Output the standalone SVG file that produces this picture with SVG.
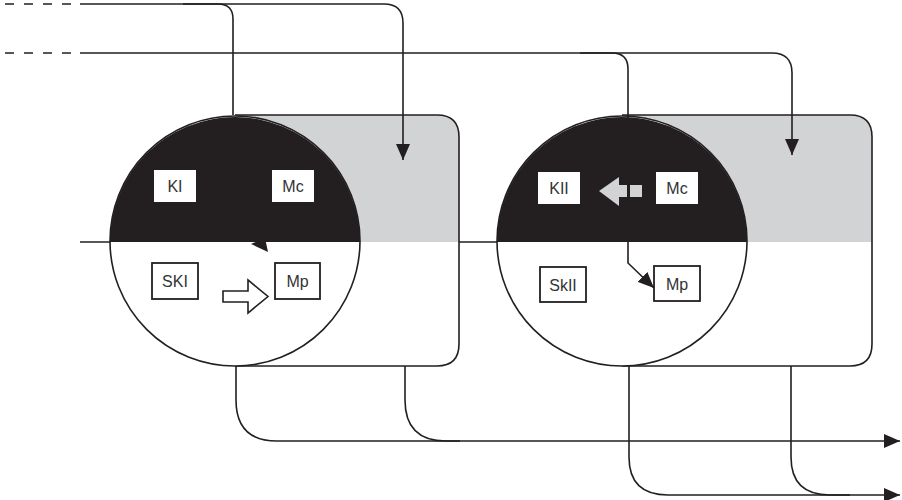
<svg xmlns="http://www.w3.org/2000/svg" width="902" height="500" viewBox="0 0 902 500">
<style>
.ln{fill:none;stroke:#231f20;stroke-width:1.6}
.dash{fill:none;stroke:#231f20;stroke-width:1.6;stroke-dasharray:9 10}
.blk{fill:#231f20}
.gry{fill:#d1d3d4}
.bx{fill:#fff;stroke:#231f20;stroke-width:1.8}
.bxw{fill:#fff}
.t{font-family:"Liberation Sans",Arial,sans-serif;font-size:16px;fill:#333;text-anchor:middle}
</style>
<defs>
<marker id="ah" viewBox="0 0 16 14" refX="16" refY="7" markerWidth="16" markerHeight="14" markerUnits="userSpaceOnUse" orient="auto">
<path d="M0,0 L16,7 L0,14 Z" fill="#231f20"/>
</marker>
</defs>
<rect width="902" height="500" fill="#fff"/>
<g id="connectors-back">
<line class="ln" x1="80" y1="242" x2="497" y2="242"/>
</g>
<g id="unit1">
<path class="gry" d="M235,115 H437 Q459,115 459,137 V242 H235 Z"/>
<path fill="#fff" d="M235,242 H459 V344 Q459,366 437,366 H235 Z"/>
<path class="ln" d="M235,115 H437 Q459,115 459,137 V344 Q459,366 437,366 H235"/>
<circle cx="235" cy="241" r="125" fill="#fff" stroke="#231f20" stroke-width="1.6"/>
<path class="blk" d="M110,242 A125,125 0 0 1 360,242 Z"/>
<polygon class="blk" points="251,244 268,252 265,238"/>
<g id="KI"><rect class="bxw" x="154" y="170" width="42" height="32"/><text class="t" x="175" y="192">KI</text></g>
<g id="Mc1"><rect class="bxw" x="272" y="170" width="42" height="32"/><text class="t" x="293" y="192">Mc</text></g>
<g id="SKI"><rect class="bx" x="152" y="263" width="46" height="36"/><text class="t" x="175" y="287">SKI</text></g>
<g id="Mp1"><rect class="bx" x="275" y="263" width="45" height="36"/><text class="t" x="297.5" y="287">Mp</text></g>
<path fill="#fff" stroke="#231f20" stroke-width="1.6" d="M223,291 H248 V280 L268,296.5 L248,313 V302 H223 Z"/>
</g>
<g id="unit2">
<path class="gry" d="M622,115 H850 Q872,115 872,137 V242 H622 Z"/>
<path fill="#fff" d="M622,242 H872 V344 Q872,366 850,366 H622 Z"/>
<path class="ln" d="M622,115 H850 Q872,115 872,137 V344 Q872,366 850,366 H622"/>
<circle cx="622" cy="241" r="125" fill="#fff" stroke="#231f20" stroke-width="1.6"/>
<path class="blk" d="M497,242 A125,125 0 0 1 747,242 Z"/>
<g id="KII"><rect class="bxw" x="538" y="172" width="42" height="32"/><text class="t" x="559" y="194">KII</text></g>
<g id="Mc2"><rect class="bxw" x="656" y="172" width="42" height="32"/><text class="t" x="677" y="194">Mc</text></g>
<g id="SkII"><rect class="bx" x="540" y="267" width="46" height="35"/><text class="t" x="563" y="291">SkII</text></g>
<g id="Mp2"><rect class="bx" x="654" y="266" width="46" height="35"/><text class="t" x="677" y="290">Mp</text></g>
<polygon class="gry" points="599,191 619,177 619,185 627,185 627,197 619,197 619,206"/>
<rect class="gry" x="630" y="185" width="12" height="12"/>
</g>
<g id="connectors">
<line class="dash" x1="5" y1="4" x2="74" y2="4"/>
<line class="dash" x1="5" y1="53" x2="74" y2="53"/>
<path class="ln" d="M80,4 H218 Q233,4 233,19 V115"/>
<path class="ln" d="M183,4 H384 Q403,4 403,23 V160" marker-end="url(#ah)"/>
<path class="ln" d="M80,53 H612 Q628,53 628,69 V263 L654,288" marker-end="url(#ah)"/>
<path class="ln" d="M580,53 H772 Q792,53 792,73 V155" marker-end="url(#ah)"/>
<path class="ln" d="M236,366 V400 Q236,441 277,441 H900" marker-end="url(#ah)"/>
<path class="ln" d="M405,366 V400 Q405,441 446,441 H460"/>
<path class="ln" d="M629,366 V457 Q629,495 668,495 H900" marker-end="url(#ah)"/>
<path class="ln" d="M791,366 V457 Q791,495 830,495 H850"/>
</g>
</svg>
